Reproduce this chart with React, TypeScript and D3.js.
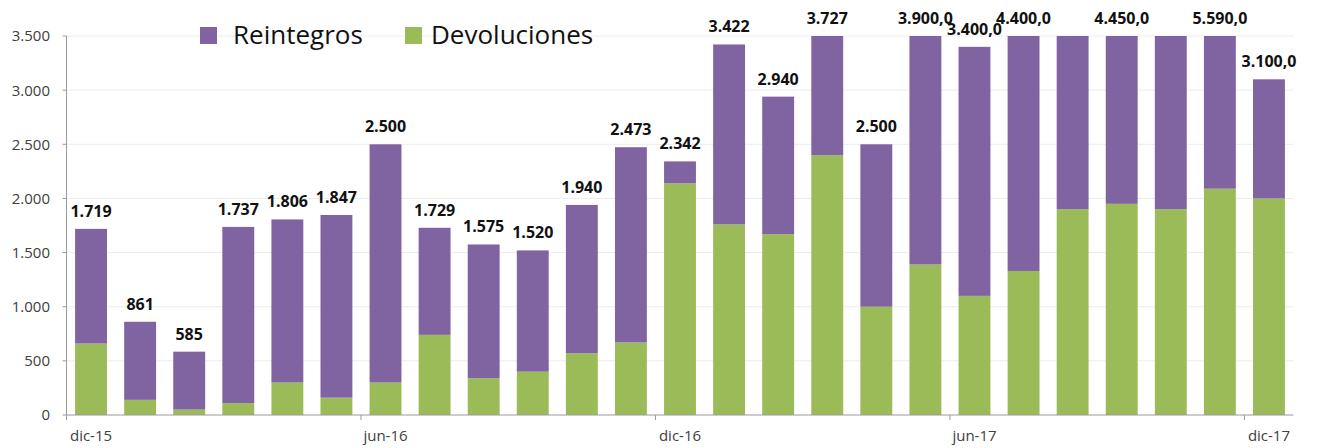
import * as d3 from "d3";
import React from "react";

const months = [
  "dic-15", "ene-16", "feb-16", "mar-16", "abr-16", "may-16", "jun-16", "jul-16", "ago-16",
  "sep-16", "oct-16", "nov-16", "dic-16", "ene-17", "feb-17", "mar-17", "abr-17", "may-17",
  "jun-17", "jul-17", "ago-17", "sep-17", "oct-17", "nov-17", "dic-17",
];
const devoluciones = [
  660, 140, 50, 110, 300, 160, 300, 740, 340, 400, 570, 670, 2140, 1760, 1670, 2400, 1000, 1390,
  1100, 1330, 1900, 1950, 1900, 2090, 2000,
];
const reintegros = [
  1059, 721, 535, 1627, 1506, 1687, 2200, 989, 1235, 1120, 1370, 1803, 202, 1662, 1270, 1327, 1500,
  2510, 2300, 3070, 2500, 2500, 2550, 3500, 1100,
];
const totalLabels: (string | null)[] = [
  "1.719", "861", "585", "1.737", "1.806", "1.847", "2.500", "1.729", "1.575", "1.520", "1.940",
  "2.473", "2.342", "3.422", "2.940", "3.727", "2.500", "3.900,0", "3.400,0", "4.400,0", null,
  "4.450,0", null, "5.590,0", "3.100,0",
];
const xTickMonths = ["dic-15", "jun-16", "dic-16", "jun-17", "dic-17"];
const yTicks = [0, 500, 1000, 1500, 2000, 2500, 3000, 3500];

const W = 1327;
const H = 448;
const margin = { left: 66.5, right: 33.5, top: 36, bottom: 33 };
const PURPLE = "#8064a2";
const GREEN = "#9bbb59";
const FONT = "'Open Sans', sans-serif";

export default function App() {
  const x = d3
    .scaleBand<string>()
    .domain(months)
    .range([margin.left, W - margin.right])
    .paddingInner(0.35)
    .paddingOuter(0.175);
  const y = d3
    .scaleLinear()
    .domain([0, 3500])
    .range([H - margin.bottom, margin.top])
    .clamp(true);

  const stacked = months.map((m, i) => ({
    m,
    dev: devoluciones[i],
    rei: reintegros[i],
    total: devoluciones[i] + reintegros[i],
    label: totalLabels[i],
  }));

  const step = x.step();
  const x0 = margin.left;
  const x1 = W - margin.right;
  const y0 = y(0);

  return (
    <svg width={W} height={H} style={{ position: "absolute", left: 0, top: 0, background: "#fff" }} fontFamily={FONT}>
      {yTicks.map((t) => (
        <g key={t}>
          {t > 0 && <line x1={x0} x2={x1} y1={y(t)} y2={y(t)} stroke="#ececec" strokeWidth={1} />}
          <line x1={x0 - 4} x2={x0} y1={y(t)} y2={y(t)} stroke="#9a9a9a" />
          <text x={50} y={y(t)} dy="0.36em" textAnchor="end" fontSize={15} fill="#404040">
            {d3.format(",")(t).replace(/,/g, ".")}
          </text>
        </g>
      ))}
      {stacked.map((d) => (
        <g key={d.m}>
          <rect x={x(d.m)} width={x.bandwidth()} y={y(d.dev)} height={y0 - y(d.dev)} fill={GREEN} />
          <rect x={x(d.m)} width={x.bandwidth()} y={y(d.total)} height={y(d.dev) - y(d.total)} fill={PURPLE} />
          {d.label && (
            <text
              x={(x(d.m) as number) + x.bandwidth() / 2}
              y={y(d.total) - 12}
              textAnchor="middle"
              fontSize={16}
              fontWeight="bold"
              fill="#111"
            >
              {d.label}
            </text>
          )}
        </g>
      ))}
      <line x1={x0} x2={x0} y1={margin.top} y2={y0} stroke="#9a9a9a" />
      <line x1={x0} x2={x1} y1={y0} y2={y0} stroke="#9a9a9a" />
      {xTickMonths.map((m) => {
        const bx = (x(m) as number) - (step - x.bandwidth()) / 2;
        return (
          <g key={m}>
            <line x1={bx} x2={bx} y1={y0} y2={y0 + 5} stroke="#9a9a9a" />
            <text x={(x(m) as number) + x.bandwidth() / 2} y={y0 + 26} textAnchor="middle" fontSize={15} fill="#404040">
              {m}
            </text>
          </g>
        );
      })}
      <g>
        <rect x={200} y={27} width={17} height={17} fill={PURPLE} />
        <text x={233} y={44} fontSize={26} fill="#111">Reintegros</text>
        <rect x={405} y={27} width={17} height={17} fill={GREEN} />
        <text x={431} y={44} fontSize={26} fill="#111">Devoluciones</text>
      </g>
    </svg>
  );
}
